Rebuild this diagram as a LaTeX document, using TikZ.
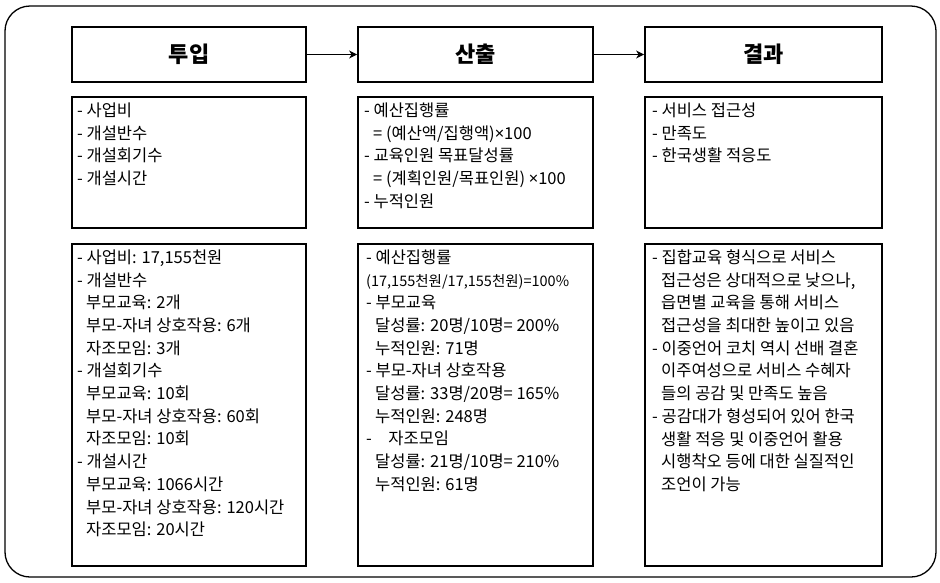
\documentclass[tikz,border=0pt]{standalone}
\usepackage{fontspec}
\newfontfamily\kr{Noto Sans CJK KR}
\newfontfamily\krh{Noto Sans CJK KR}
\newfontfamily\latx{Noto Sans}
\usetikzlibrary{arrows.meta}
\newcommand\krind{\hspace*{9pt}}
\newcommand\mulx{{\latx ×}}
\begin{document}
\begin{tikzpicture}[x=1pt,y=-1pt,
  box/.style={draw, line width=1.8pt, inner sep=0pt},
  head/.style={box, font=\krh\bfseries\fontsize{22}{22}\selectfont, minimum height=55pt},
  body/.style={anchor=north west, inner sep=0pt, align=left, font=\kr\fontsize{16.5}{22.7}\selectfont},
  flow/.style={line width=1.2pt, -{Stealth[length=8pt,width=8pt,inset=2.5pt]}}]
\useasboundingbox (0,0) rectangle (940,582);
\draw[line width=1.3pt, rounded corners=25pt] (5,6) rectangle (936,577);
% headers
\node[head, minimum width=234pt] (h1) at (189,54.5) {투입};
\node[head, minimum width=235pt] (h2) at (475.5,54.5) {산출};
\node[head, minimum width=237pt] (h3) at (763.5,54.5) {결과};
\draw[flow] (h1.east) -- (h2.west);
\draw[flow] (h2.east) -- (h3.west);
% middle boxes
\node[box, minimum width=234pt, minimum height=131pt] (m1) at (189,162.5) {};
\node[box, minimum width=235pt, minimum height=131pt] (m2) at (475.5,162.5) {};
\node[box, minimum width=237pt, minimum height=131pt] (m3) at (763.5,162.5) {};
% lower boxes
\node[box, minimum width=234pt, minimum height=322pt] (l1) at (189,405) {};
\node[box, minimum width=235pt, minimum height=322pt] (l2) at (475.5,405) {};
\node[box, minimum width=237pt, minimum height=322pt] (l3) at (763.5,405) {};
% texts
\node[body] (tm1) at (77,102.5) {- 사업비\\- 개설반수\\- 개설회기수\\- 개설시간};
\node[body] (tm2) at (364,102.5) {- 예산집행률\\\krind = (예산액/집행액)\mulx100\\- 교육인원 목표달성률\\\krind = (계획인원/목표인원) \mulx100\\- 누적인원};
\node[body] (tm3) at (652,102.5) {- 서비스 접근성\\- 만족도\\- 한국생활 적응도};
\node[body] (tl1) at (77,249.5) {- 사업비: 17,155천원\\- 개설반수\\\krind 부모교육: 2개\\\krind 부모-자녀 상호작용: 6개\\\krind 자조모임: 3개\\- 개설회기수\\\krind 부모교육: 10회\\\krind 부모-자녀 상호작용: 60회\\\krind 자조모임: 10회\\- 개설시간\\\krind 부모교육: 1066시간\\\krind 부모-자녀 상호작용: 120시간\\\krind 자조모임: 20시간};
\node[body] (tl2) at (366,249.5) {- 예산집행률\\{\fontsize{14.5}{22.7}\selectfont (17,155천원/17,155천원)=100\%}\\- 부모교육\\\krind 달성률: 20명/10명= 200\%\\\krind 누적인원: 71명\\- 부모-자녀 상호작용\\\krind 달성률: 33명/20명= 165\%\\\krind 누적인원: 248명\\-\hspace*{1em}자조모임\\\krind 달성률: 21명/10명= 210\%\\\krind 누적인원: 61명};
\node[body] (tl3) at (652,249.5) {- 집합교육 형식으로 서비스\\\krind 접근성은 상대적으로 낮으나,\\\krind 읍면별 교육을 통해 서비스\\\krind 접근성을 최대한 높이고 있음\\- 이중언어 코치 역시 선배 결혼\\\krind 이주여성으로 서비스 수혜자\\\krind 들의 공감 및 만족도 높음\\- 공감대가 형성되어 있어 한국\\\krind 생활 적응 및 이중언어 활용\\\krind 시행착오 등에 대한 실질적인\\\krind 조언이 가능};
\end{tikzpicture}
\end{document}
